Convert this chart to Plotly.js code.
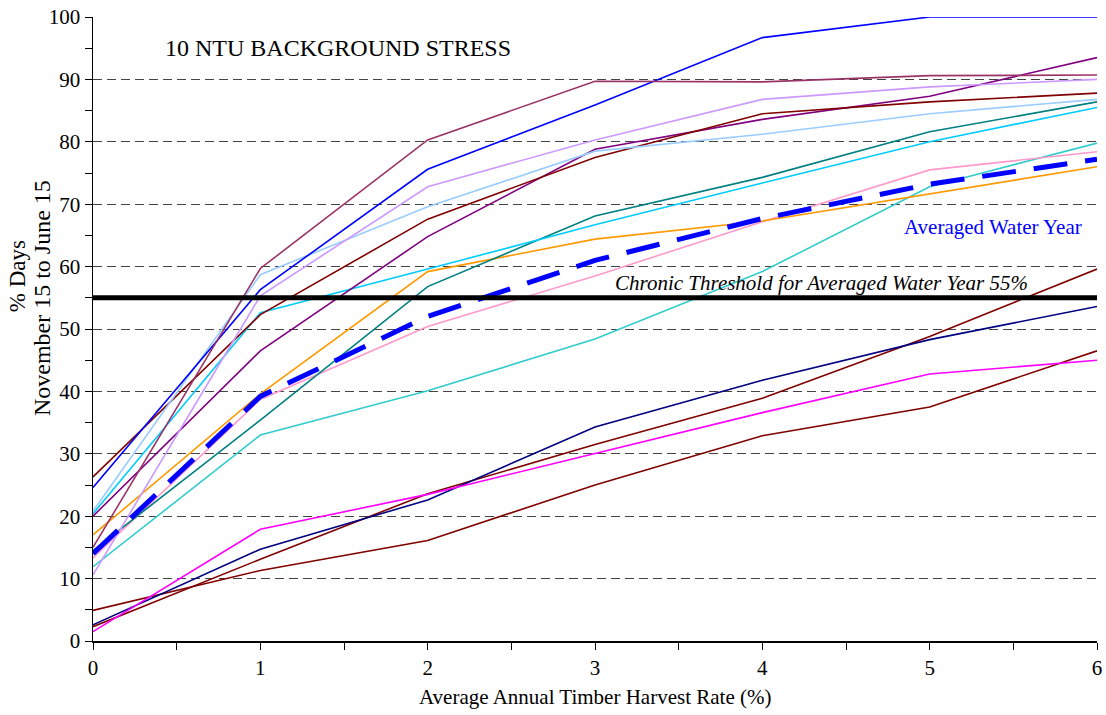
<!DOCTYPE html>
<html>
<head>
<meta charset="utf-8">
<script src="https://cdn.plot.ly/plotly-3.0.1.min.js"></script>
<style>html,body{margin:0;padding:0;background:#fff;}#chart{width:1106px;height:715px;}</style>
</head>
<body>
<div id="chart"></div>
<script>
const xVals = [0, 1, 2, 3, 4, 5, 6];
const xTickLabels = ['0', '1', '2', '3', '4', '5', '6'];
const yTickVals = [0, 10, 20, 30, 40, 50, 60, 70, 80, 90, 100];

const mauve        = [15.0, 59.7, 80.3, 89.7, 89.6, 90.6, 90.7];
const blue         = [24.6, 56.3, 75.6, 85.9, 96.7, 100, 100];
const lavender     = [10.6, 55.3, 72.8, 80.3, 86.8, 88.8, 90.0];
const lightBlue    = [20.8, 58.7, 69.6, 78.5, 81.2, 84.5, 86.8];
const darkRedUpper = [26.3, 52.3, 67.6, 77.5, 84.5, 86.4, 87.8];
const purple       = [20.0, 46.5, 64.8, 78.8, 83.6, 87.3, 93.5];
const teal         = [14.5, 35.4, 56.8, 68.1, 74.3, 81.6, 86.4];
const cyan         = [20.4, 52.6, 59.6, 66.7, 73.4, 80.0, 85.5];
const orange       = [17.0, 39.6, 59.2, 64.4, 67.3, 71.7, 76.0];
const pink         = [13.3, 38.7, 50.4, 58.5, 67.2, 75.5, 78.4];
const turquoise    = [11.9, 33.0, 40.1, 48.4, 59.2, 72.8, 79.8];
const navy         = [2.6, 14.7, 22.6, 34.3, 41.8, 48.3, 53.6];
const darkRedMid   = [2.3, 13.1, 23.6, 31.5, 38.9, 48.8, 59.6];
const magenta      = [1.5, 17.9, 23.5, 30.1, 36.6, 42.8, 45.0];
const darkRedLow   = [4.9, 11.3, 16.1, 25.0, 32.9, 37.5, 46.5];
const averaged     = [14.0, 39.2, 52.0, 61.0, 67.7, 73.2, 77.2];
const threshold    = [55, 55, 55, 55, 55, 55, 55];

const series = [
  {y: darkRedLow, c: '#800000'},
  {y: darkRedMid, c: '#800000'},
  {y: navy, c: '#000080'},
  {y: magenta, c: '#FF00FF'},
  {y: turquoise, c: '#33CCCC'},
  {y: pink, c: '#FF99CC'},
  {y: orange, c: '#FF9900'},
  {y: teal, c: '#008080'},
  {y: cyan, c: '#00CCFF'},
  {y: purple, c: '#800080'},
  {y: darkRedUpper, c: '#800000'},
  {y: lightBlue, c: '#99CCFF'},
  {y: lavender, c: '#CC99FF'},
  {y: blue, c: '#0000FF'},
  {y: mauve, c: '#993366'}
];

const traces = series.map(s => ({
  x: xVals, y: s.y, type: 'scatter', mode: 'lines',
  line: {color: s.c, width: 1.6}, hoverinfo: 'skip'
}));
traces.push({x: xVals, y: averaged, type: 'scatter', mode: 'lines',
  line: {color: '#0000FF', width: 5, dash: '34px,18px'}});
traces.push({x: xVals, y: threshold, type: 'scatter', mode: 'lines',
  line: {color: '#000000', width: 5}});

const font = 'Liberation Serif, Times New Roman, serif';

const layout = {
  width: 1106, height: 715,
  margin: {l: 93, r: 9, t: 17, b: 74},
  paper_bgcolor: '#fff', plot_bgcolor: '#fff',
  showlegend: false,
  font: {family: font, size: 21, color: '#000'},
  xaxis: {
    range: [0, 6], tickvals: xVals, ticktext: xTickLabels,
    showgrid: false, zeroline: false, showline: true, linecolor: '#000', linewidth: 1.5,
    ticks: 'outside', ticklen: 7, tickcolor: '#000', tickwidth: 1,
    minor: {dtick: 0.5, ticks: 'outside', ticklen: 7, tickcolor: '#000', showgrid: false},
    tickfont: {family: font, size: 21}, fixedrange: true
  },
  yaxis: {
    range: [0, 100], tickvals: yTickVals,
    showgrid: true, gridcolor: '#444', griddash: '9px,5px', gridwidth: 1,
    zeroline: false, showline: true, linecolor: '#000', linewidth: 1.5,
    ticks: 'outside', ticklen: 7, tickcolor: '#000', tickwidth: 1,
    minor: {dtick: 5, ticks: 'outside', ticklen: 7, tickcolor: '#000', showgrid: false},
    tickfont: {family: font, size: 21}, fixedrange: true
  },
  annotations: [
    {text: 'Average Annual Timber Harvest Rate (%)', xref: 'paper', yref: 'paper',
     x: 0.5, y: -0.0895, xanchor: 'center', yanchor: 'middle', showarrow: false,
     font: {family: font, size: 21}},
    {text: '% Days', xref: 'paper', yref: 'paper', x: -0.0745, y: 0.585,
     textangle: -90, xanchor: 'center', yanchor: 'middle', showarrow: false,
     font: {family: font, size: 23}},
    {text: 'November 15 to June 15', xref: 'paper', yref: 'paper', x: -0.0505, y: 0.55,
     textangle: -90, xanchor: 'center', yanchor: 'middle', showarrow: false,
     font: {family: font, size: 24}},
    {text: '10 NTU BACKGROUND STRESS', xref: 'x', yref: 'y', x: 0.42, y: 95.0,
     xanchor: 'left', yanchor: 'middle', showarrow: false,
     font: {family: font, size: 24}},
    {text: '<i>Chronic Threshold for Averaged Water Year 55%</i>', xref: 'x', yref: 'y',
     x: 5.6, y: 57.4, xanchor: 'right', yanchor: 'middle', showarrow: false,
     font: {family: font, size: 21}},
    {text: 'Averaged Water Year', xref: 'x', yref: 'y', x: 5.92, y: 66.3,
     xanchor: 'right', yanchor: 'middle', showarrow: false,
     font: {family: font, size: 21, color: '#0000FF'}}
  ]
};

Plotly.newPlot('chart', traces, layout, {displayModeBar: false, staticPlot: true});
</script>
</body>
</html>
